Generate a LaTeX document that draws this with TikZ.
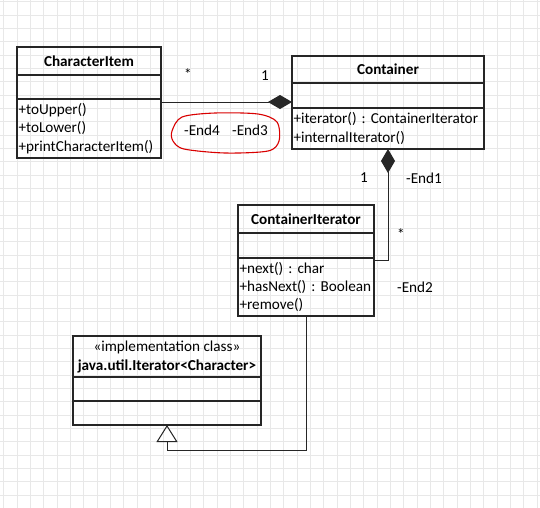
\documentclass[tikz,border=0pt]{standalone}
\usepackage{fontspec}
\setmainfont{Carlito}
\usetikzlibrary{arrows.meta,positioning}
\frenchspacing

\begin{document}
\begin{tikzpicture}[x=1pt, y=-1pt, every node/.style={font=\fontsize{15.2}{18.3}\selectfont},
  part/.style={draw=black!85, line width=1.1pt, inner sep=0pt, outer sep=0pt, anchor=north west},
  head/.style={part, align=center, font=\fontsize{15.2}{19}\selectfont\bfseries},
  attr/.style={part, minimum height=24pt},
  ops/.style={part, align=left, inner xsep=1.5pt},
  lbl/.style={inner sep=0pt},
  comp/.style={{Diamond[length=24pt, width=14pt]}-, line width=1pt, draw=black!85},
  gen/.style={-{Triangle[open, length=17pt, width=21pt]}, line width=1pt, draw=black!85},
  bggrid/.style={draw=black!9, line width=0.5pt, step=13.33pt}]
\useasboundingbox (0,0) rectangle (540,507);
\fill[white] (0,0) rectangle (540,507);
\begin{scope}
  \clip (0,0) rectangle (540,507);
  \draw[bggrid, shift={(3.7,1.7)}] (-14,-14) grid (540,510);
\end{scope}
% CharacterItem
\node[head, minimum width=144pt, minimum height=28pt] (ci-head) at (17,47) {CharacterItem};
\node[attr, minimum width=144pt, below=0pt of ci-head] (ci-attr) {};
\node[ops, text width=141pt, minimum height=59pt, below=0pt of ci-attr] (ci-ops) {+toUpper()\\+toLower()\\+printCharacterItem()};
% Container
\node[head, minimum width=192pt, minimum height=27pt] (co-head) at (292,56) {Container};
\node[attr, minimum width=192pt, minimum height=25pt, below=0pt of co-head] (co-attr) {};
\node[ops, text width=189pt, minimum height=41pt, below=0pt of co-attr] (co-ops) {+iterator()~:~ContainerIterator\\+internalIterator()};
% ContainerIterator
\node[head, minimum width=136pt, minimum height=28pt] (cit-head) at (238,205) {ContainerIterator};
\node[attr, minimum width=136pt, minimum height=25pt, below=0pt of cit-head] (cit-attr) {};
\node[ops, text width=133pt, minimum height=58pt, below=0pt of cit-attr] (cit-ops) {+next()~:~char\\+hasNext()~:~Boolean\\+remove()};
% java.util.Iterator
\node[head, minimum width=188pt, minimum height=41pt] (it-head) at (73,336) {{\mdseries «implementation class»}\\java.util.Iterator<Character>};
\node[attr, minimum width=188pt, below=0pt of it-head] (it-attr) {};
\node[attr, minimum width=188pt, below=0pt of it-attr] (it-ops) {};
% associations
\coordinate (j1) at ([yshift=6pt]co-attr.south west);
\draw[comp] (j1) -- (j1 -| ci-ops.east);
\draw[comp] (co-ops.south) |- ([yshift=-2pt]cit-ops.north east);
\draw[gen] (cit-ops.south) -- ++(0,134) -| (it-ops.south);
% end labels
\node[lbl] (m1) at (188,74) {*};
\node[lbl] (m2) at (265,76) {1};
\node[lbl] (m3) at (364,178) {1};
\node[lbl] (e1) at (424,178) {-End1};
\node[lbl] (m4) at (401,234) {*};
\node[lbl] (e2) at (415,287) {-End2};
\node[lbl] (e4) at (202,130) {-End4};
\node[lbl] (e3) at (250,130) {-End3};
% red mark
\draw[red!85!black, line width=1.1pt] plot[smooth cycle] coordinates {(172,131) (182,117) (215,113) (258,114) (277,122) (279,141) (268,151) (225,153) (184,149) (173,141)};
\end{tikzpicture}
\end{document}
